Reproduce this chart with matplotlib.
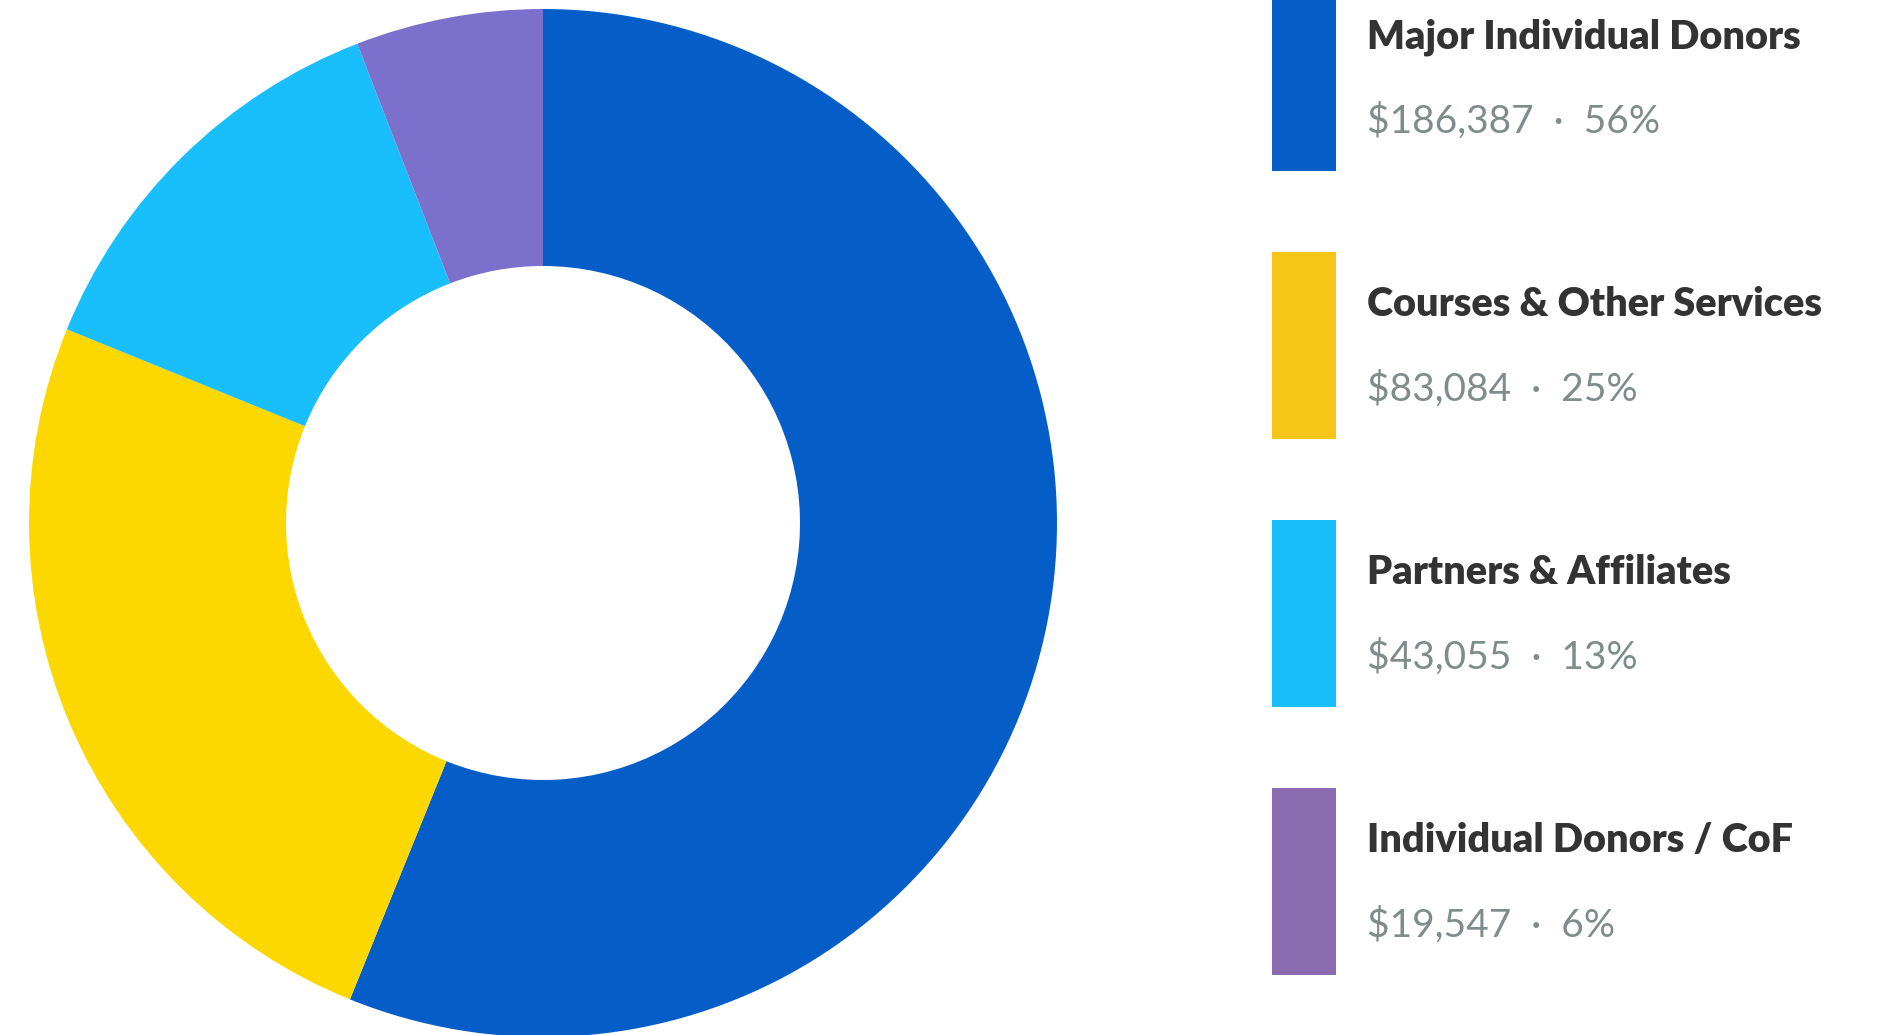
import matplotlib.pyplot as plt
from matplotlib.patches import Rectangle

# revenue by source
sources = ['Major Individual Donors', 'Courses & Other Services',
           'Partners & Affiliates', 'Individual Donors / CoF']
amounts = [186387, 83084, 43055, 19547]
percents = [56, 25, 13, 6]
ring_colors = ['#055EC8', '#FCD800', '#18BFFC', '#7B71CC']
swatch_colors = ['#055EC8', '#F5C518', '#18BFFC', '#8A6BB0']

W, H = 1890, 1035
fig = plt.figure(figsize=(W / 100, H / 100), dpi=100)
ax = fig.add_axes([0, 0, 1, 1])

# donut, drawn in pixel units (y up)
cx, cy, R = 543, 512, 514
ax.pie(amounts, colors=ring_colors, startangle=90, counterclock=False,
       center=(cx, cy), radius=R,
       wedgeprops=dict(width=R / 2, linewidth=0))

ax.set_xlim(0, W)
ax.set_ylim(0, H)
ax.set_aspect('equal')
ax.axis('off')

# legend column on the right
x0, sw_w, sw_h, step = 1272, 64, 187, 268
top = H + 16
for i, (name, amt, pct) in enumerate(zip(sources, amounts, percents)):
    y_top = top - step * i
    ax.add_patch(Rectangle((x0, y_top - sw_h), sw_w, sw_h,
                           color=swatch_colors[i], linewidth=0))
    ax.text(1367, y_top - 64, name, fontsize=28.5, fontfamily='Lato',
            fontweight='heavy', color='#333333', va='baseline', ha='left')
    ax.text(1367, y_top - 149, '${:,}  ·  {}%'.format(amt, pct), fontsize=28,
            fontfamily='Lato', fontweight='normal', color='#808C8C',
            va='baseline', ha='left')

fig.savefig('out.png', dpi=100)
